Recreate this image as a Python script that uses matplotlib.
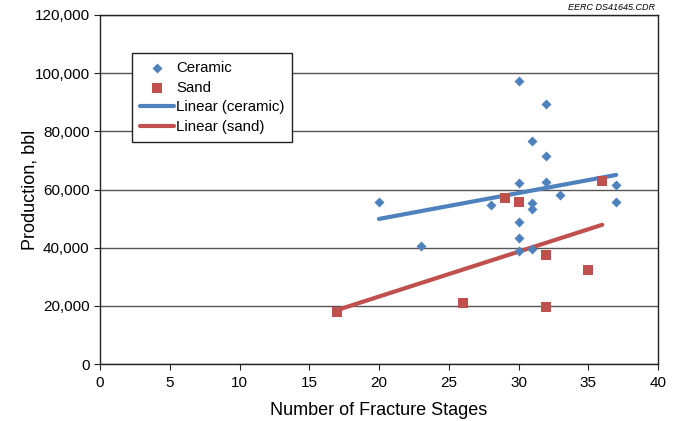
import numpy as np
import matplotlib.pyplot as plt

plt.rcParams['font.family'] = ['Liberation Sans', 'DejaVu Sans']

# values
ceramic_stages = [20, 23, 28, 30, 30, 30, 30, 30, 31, 31, 31, 31, 32, 32, 32, 33, 37, 37]
ceramic_prod = [55700, 40700, 54700, 97300, 62100, 48800, 43400, 38900,
                76700, 55300, 53200, 39500, 89400, 71500, 62700, 58100, 61700, 55600]
sand_stages = [17, 26, 29, 30, 32, 32, 35, 36]
sand_prod = [18000, 21100, 57200, 55700, 37500, 19600, 32300, 62900]

blue = "#4F81BD"
red = "#C0504D"

fig = plt.figure(figsize=(6.79, 4.21), dpi=100)
ax = fig.add_axes([100 / 679, 1 - 364 / 421, 558 / 679, 349 / 421])

ax.yaxis.grid(True, color="#555555", linewidth=1.0)
ax.set_axisbelow(True)

ax.scatter(ceramic_stages, ceramic_prod, marker="D", s=26, color=blue,
           label="Ceramic", zorder=3, linewidths=0)
ax.scatter(sand_stages, sand_prod, marker="s", s=50, color=red,
           label="Sand", zorder=3, linewidths=0)

# Linear trendlines, as in the spreadsheet
for xs, ys, c, lab in [(ceramic_stages, ceramic_prod, blue, "Linear (ceramic)"),
                       (sand_stages, sand_prod, red, "Linear (sand)")]:
    k, b = np.polyfit(xs, ys, 1)
    xx = np.array([min(xs), max(xs)])
    ax.plot(xx, k * xx + b, color=c, linewidth=3, label=lab, zorder=2,
            solid_capstyle="round")

ax.set_xlim(0, 40)
ax.set_ylim(0, 120000)
ax.set_xticks(range(0, 41, 5))
ax.set_yticks(range(0, 120001, 20000))
ax.set_yticklabels([f"{v:,}" for v in range(0, 120001, 20000)])
ax.tick_params(labelsize=11, length=4, color="#222222")
ax.tick_params(axis="x", pad=4.5)
for s in ax.spines.values():
    s.set_color("#222222")
    s.set_linewidth(1.0)

ax.set_xlabel("Number of Fracture Stages", fontsize=13, labelpad=9)
ax.set_ylabel("Production, bbl", fontsize=13, labelpad=-3)

leg = ax.legend(loc="upper left", bbox_to_anchor=(32 / 558, 1 - 38 / 349),
                borderaxespad=0, fontsize=10.8, frameon=True, fancybox=False,
                edgecolor="#222222", framealpha=1, handlelength=2.3,
                handletextpad=0.15, labelspacing=0.4, borderpad=0.5,
                scatterpoints=1)
leg.get_frame().set_linewidth(1.0)

fig.text(655 / 679, 1 - 8 / 421, "EERC DS41645.CDR", fontsize=6.5,
         style="italic", ha="right", va="center")

fig.savefig("out.png", dpi=100)
